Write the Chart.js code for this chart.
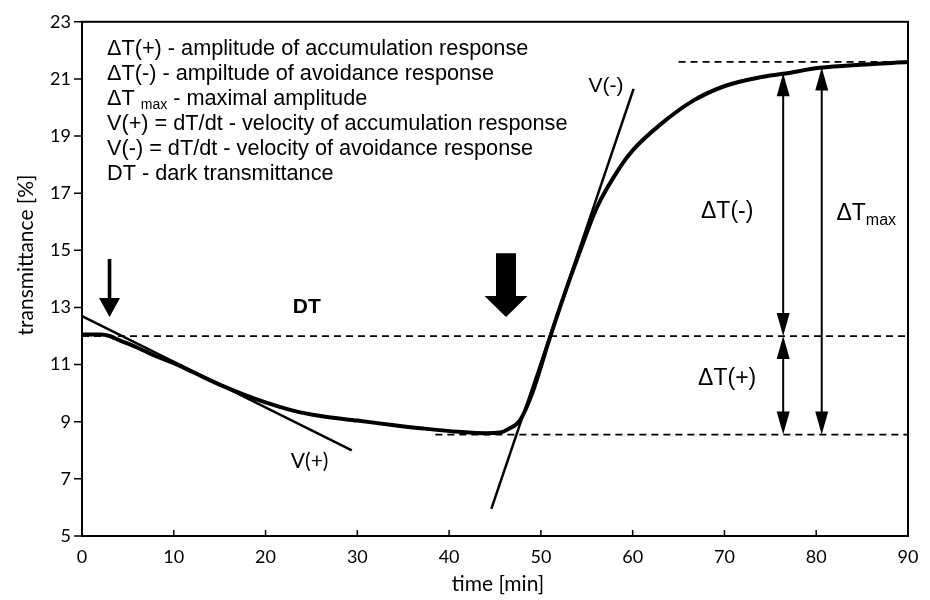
<!DOCTYPE html>
<html>
<head>
<meta charset="utf-8">
<script src="https://cdn.jsdelivr.net/npm/chart.js@4/dist/chart.umd.min.js"></script>
<style>
  html, body { margin: 0; background: #fff; }
  #wrap { width: 930px; height: 600px; }
</style>
</head>
<body>
<div id="wrap"><canvas id="chart"></canvas></div>
<script>
const timeMin = [0, 2, 3, 4.1, 6, 8, 10, 12, 15, 17.5, 20, 23, 26, 30, 34, 37.6, 41, 44, 45.5, 46.5, 47.7, 49, 51, 52.5, 54.3, 56.1, 58.6, 60, 63, 66.6, 70.2, 73.9, 76.4, 80.4, 84.8, 90];
const transmittance = [12.05, 12.05, 12.0, 11.85, 11.6, 11.3, 11.05, 10.75, 10.3, 9.97, 9.68, 9.39, 9.2, 9.04, 8.88, 8.75, 8.65, 8.6, 8.62, 8.75, 9.04, 9.95, 11.96, 13.4, 15.0, 16.5, 17.9, 18.5, 19.4, 20.24, 20.77, 21.06, 21.18, 21.39, 21.5, 21.59];

// tangent lines
const vPlusTime = [0, 29.4];
const vPlusValue = [12.7, 8.0];
const vMinusTime = [44.6, 60.1];
const vMinusValue = [5.95, 20.65];

// reference levels
const darkLevel = 12.0;   // DT
const minLevel = 8.55;
const maxLevel = 21.6;
const darkFrom = 0, minFrom = 38.5, maxFrom = 65;

// amplitude arrows
const ampTime = [76.4, 76.4, 80.6];
const ampFrom = [12.0, 8.55, 8.55];
const ampTo = [21.2, 12.0, 21.4];

// light-on / light-off arrows
const lightTime = [3, 46.2];
const lightTop = [14.7, 14.9];
const lightTip = [12.67, 12.67];

const xTicks = [0, 10, 20, 30, 40, 50, 60, 70, 80, 90];
const yTicks = [5, 7, 9, 11, 13, 15, 17, 19, 21, 23];

const legendLines = [
  ['ΔT(+) - amplitude of accumulation response'],
  ['ΔT(-) - ampiltude of avoidance response'],
  ['ΔT ', 'max', ' - maximal amplitude'],
  ['V(+) = dT/dt - velocity of accumulation response'],
  ['V(-) = dT/dt - velocity of avoidance response'],
  ['DT - dark transmittance']
];

const pts = (xs, ys) => xs.map((x, i) => ({ x: x, y: ys[i] }));

function dashed(from, level) {
  return {
    data: [{ x: from, y: level }, { x: 90, y: level }],
    borderColor: '#000', borderWidth: 1.8, borderDash: [7, 5],
    pointRadius: 0, fill: false
  };
}

const overlay = {
  id: 'overlay',
  afterDatasetsDraw(chart) {
    const ctx = chart.ctx;
    const xs = chart.scales.x, ys = chart.scales.y;
    const a = chart.chartArea;
    ctx.save();
    ctx.fillStyle = '#000';
    ctx.strokeStyle = '#000';

    // frame
    ctx.lineWidth = 2;
    ctx.strokeRect(a.left, a.top, a.right - a.left, a.bottom - a.top);

    // ticks: x inward, y outward
    ctx.lineWidth = 1.5;
    ctx.beginPath();
    xTicks.forEach(t => {
      const px = xs.getPixelForValue(t);
      ctx.moveTo(px, a.bottom); ctx.lineTo(px, a.bottom - 6);
    });
    yTicks.forEach(t => {
      const py = ys.getPixelForValue(t);
      ctx.moveTo(a.left, py); ctx.lineTo(a.left - 8, py);
    });
    ctx.stroke();

    // axis titles
    ctx.textBaseline = 'middle';
    ctx.textAlign = 'center';
    ctx.font = '21px Lato, "Open Sans"';
    ctx.fillText('time [min]', (a.left + a.right) / 2 + 3, 584);
    ctx.save();
    ctx.translate(26, 255);
    ctx.rotate(-Math.PI / 2);
    ctx.fillText('transmittance [%]', 0, 0);
    ctx.restore();

    // amplitude double arrows
    const head = (x, y, dir) => {
      ctx.beginPath();
      ctx.moveTo(x, y);
      ctx.lineTo(x - 6.5, y + dir * 23);
      ctx.lineTo(x + 6.5, y + dir * 23);
      ctx.closePath();
      ctx.fill();
    };
    ampTime.forEach((t, i) => {
      const px = xs.getPixelForValue(t);
      const y1 = ys.getPixelForValue(ampFrom[i]);
      const y2 = ys.getPixelForValue(ampTo[i]);
      ctx.lineWidth = 2;
      ctx.beginPath();
      ctx.moveTo(px, y1 - 10); ctx.lineTo(px, y2 + 10);
      ctx.stroke();
      head(px, y1, -1);
      head(px, y2, 1);
    });

    // light arrows (thin, thick)
    const shaftHalf = [1.8, 10], headHalf = [10.5, 21.5], headLen = [19, 21];
    lightTime.forEach((t, i) => {
      const px = xs.getPixelForValue(t);
      const top = ys.getPixelForValue(lightTop[i]);
      const tip = ys.getPixelForValue(lightTip[i]);
      const hb = tip - headLen[i];
      ctx.beginPath();
      ctx.moveTo(px - shaftHalf[i], top);
      ctx.lineTo(px + shaftHalf[i], top);
      ctx.lineTo(px + shaftHalf[i], hb);
      ctx.lineTo(px + headHalf[i], hb);
      ctx.lineTo(px, tip);
      ctx.lineTo(px - headHalf[i], hb);
      ctx.lineTo(px - shaftHalf[i], hb);
      ctx.closePath();
      ctx.fill();
    });

    // legend block
    ctx.textAlign = 'left';
    legendLines.forEach((parts, i) => {
      let x = a.left + 25;
      const y = a.top + 27 + i * 25;
      parts.forEach((p, j) => {
        const sub = parts.length > 1 && j === 1;
        ctx.font = sub ? '14px "Liberation Sans", Arial' : '21.7px "Liberation Sans", Arial';
        ctx.fillText(p, x, sub ? y + 6 : y);
        x += ctx.measureText(p).width;
      });
    });

    // labels in data coordinates
    ctx.textAlign = 'center';
    ctx.font = 'bold 21px "Liberation Sans", Arial';
    ctx.fillText('DT', xs.getPixelForValue(24.5), ys.getPixelForValue(13.0));
    ctx.font = '21px Lato, "Liberation Sans"';
    ctx.fillText('V(+)', xs.getPixelForValue(24.8), ys.getPixelForValue(7.6));
    ctx.font = '21px "Liberation Sans", Arial';
    ctx.fillText('V(-)', xs.getPixelForValue(57.1), ys.getPixelForValue(20.75));
    ctx.font = '23px "Liberation Sans", Arial';
    ctx.fillText('ΔT(-)', xs.getPixelForValue(70.3), ys.getPixelForValue(16.35));
    ctx.fillText('ΔT(+)', xs.getPixelForValue(70.3), ys.getPixelForValue(10.5));
    ctx.textAlign = 'left';
    const mx = xs.getPixelForValue(82.2), my = ys.getPixelForValue(16.3);
    ctx.fillText('ΔT', mx, my);
    const w = ctx.measureText('ΔT').width;
    ctx.font = '16px "Liberation Sans", Arial';
    ctx.fillText('max', mx + w, my + 7);
    ctx.restore();
  }
};

new Chart(document.getElementById('chart'), {
  type: 'line',
  data: {
    datasets: [
      {
        data: pts(timeMin, transmittance),
        borderColor: '#000', borderWidth: 4,
        cubicInterpolationMode: 'monotone',
        pointRadius: 0, fill: false
      },
      {
        data: pts(vPlusTime, vPlusValue),
        borderColor: '#000', borderWidth: 2.5, pointRadius: 0, fill: false
      },
      {
        data: pts(vMinusTime, vMinusValue),
        borderColor: '#000', borderWidth: 2.5, pointRadius: 0, fill: false
      },
      dashed(darkFrom, darkLevel),
      dashed(minFrom, minLevel),
      dashed(maxFrom, maxLevel)
    ]
  },
  options: {
    responsive: true,
    maintainAspectRatio: false,
    animation: false,
    layout: { padding: { top: 16, right: 22, left: 0, bottom: 0 } },
    plugins: { legend: { display: false }, tooltip: { enabled: false } },
    scales: {
      x: {
        type: 'linear', min: 0, max: 90,
        afterFit: s => { s.height = 64; },
        afterBuildTicks: s => { s.ticks = xTicks.map(v => ({ value: v })); },
        grid: { display: false, drawTicks: false },
        border: { display: false },
        ticks: { color: '#000', padding: 10, maxRotation: 0, font: { family: 'Lato', size: 18 } }
      },
      y: {
        min: 5, max: 23,
        afterFit: s => { s.width = 82; },
        afterBuildTicks: s => { s.ticks = yTicks.map(v => ({ value: v })); },
        grid: { display: false, drawTicks: false },
        border: { display: false },
        ticks: { color: '#000', padding: 11, font: { family: 'Lato', size: 18 } }
      }
    }
  },
  plugins: [overlay]
});
</script>
</body>
</html>
